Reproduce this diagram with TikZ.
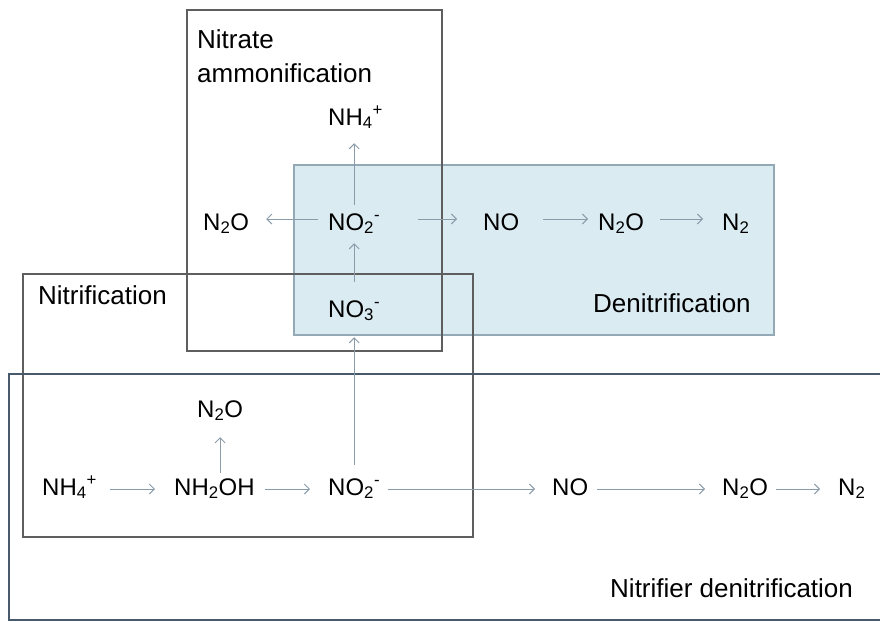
\documentclass[tikz,border=0pt]{standalone}
\usepackage{fontspec}
\setmainfont{Liberation Sans}
\usetikzlibrary{arrows.meta}
\definecolor{arrowc}{HTML}{8A9CAA}
\definecolor{boxgray}{HTML}{5E5E5E}
\definecolor{denfill}{HTML}{DAEBF2}
\definecolor{denline}{HTML}{93A9B6}
\definecolor{nitdline}{HTML}{48596B}
\begin{document}
\begin{tikzpicture}[x=1pt,y=-1pt,
  chem/.style={inner sep=0pt, text height=17pt, text depth=5pt, anchor=base west, font=\fontsize{24}{28}\selectfont},
  lab/.style={inner sep=0pt, anchor=base west, font=\fontsize{26}{34}\selectfont, align=left},
  arr/.style={draw=arrowc, line width=1pt, -{Straight Barb[length=5pt,width=10pt]}},
  grayb/.style={draw=boxgray, line width=1.6pt},
  up/.style={transform canvas={yshift=5pt}}]
\useasboundingbox (0,0) rectangle (880,621);

% region boxes
\draw[fill=denfill, draw=denline, line width=1.5pt] (294,165) rectangle (774,335);
\draw[grayb] (187,10) rectangle (442,351);
\draw[grayb] (23,274) rectangle (473,537);
\draw[draw=nitdline, line width=2pt] (9,374) rectangle (900,619.5);

% labels
\node[lab] (labna) at (197,82) {Nitrate\\ammonification};
\node[lab] (labden) at (593,312) {Denitrification};
\node[lab] (labnit) at (38,304) {Nitrification};
\node[lab] (labnd) at (610,597) {Nitrifier denitrification};

% top species
\node[chem] (nh4t) at (328,125) {NH\textsubscript{4}\textsuperscript{+}};
\node[chem] (n2ol) at (203,230) {N\textsubscript{2}O};
\node[chem] (no2t) at (328,230) {NO\textsubscript{2}\textsuperscript{-}};
\node[chem] (not) at (483,230) {NO};
\node[chem] (n2ot) at (598,230) {N\textsubscript{2}O};
\node[chem] (n2t) at (722,230) {N\textsubscript{2}};
\node[chem] (no3) at (328,317) {NO\textsubscript{3}\textsuperscript{-}};

% bottom species
\node[chem] (n2ox) at (197,417) {N\textsubscript{2}O};
\node[chem] (nh4b) at (42,495) {NH\textsubscript{4}\textsuperscript{+}};
\node[chem] (nh2oh) at (174,495) {NH\textsubscript{2}OH};
\node[chem] (no2b) at (328,495) {NO\textsubscript{2}\textsuperscript{-}};
\node[chem] (nob) at (552,495) {NO};
\node[chem] (n2ob) at (722,495) {N\textsubscript{2}O};
\node[chem] (n2b) at (838,495) {N\textsubscript{2}};

% top arrows
\draw[arr,up,shorten <=10pt,shorten >=17pt] (no2t.west) -- (n2ol.east);
\draw[arr,up,shorten <=38pt,shorten >=26pt] (no2t.east) -- (not.west);
\draw[arr,up,shorten <=24pt,shorten >=10pt] (not.east) -- (n2ot.west);
\draw[arr,up,shorten <=16pt,shorten >=19pt] (n2ot.east) -- (n2t.west);
\draw[arr,shorten <=8pt,shorten >=13pt] (no2t.north) -- (no2t.north |- nh4t.south);
\draw[arr,shorten <=18pt,shorten >=8pt] (no3.north) -- (no3.north |- no2t.south);

% bottom arrows
\draw[arr,shorten <=13pt,shorten >=19pt] (nh4b.east) -- (nh2oh.west);
\draw[arr,shorten <=10pt,shorten >=18pt] (nh2oh.east) -- (no2b.west);
\draw[arr,shorten <=8pt,shorten >=17pt] (no2b.east) -- (nob.west);
\draw[arr,shorten <=9pt,shorten >=17pt] (nob.east) -- (n2ob.west);
\draw[arr,shorten <=8pt,shorten >=18pt] (n2ob.east) -- (n2b.west);
\draw[arr,shorten <=5pt,shorten >=15pt] (n2ox.south |- nh2oh.north) -- (n2ox.south);
\draw[arr,shorten <=13pt,shorten >=15pt] (no2b.north) -- (no2b.north |- no3.south);
\end{tikzpicture}
\end{document}
